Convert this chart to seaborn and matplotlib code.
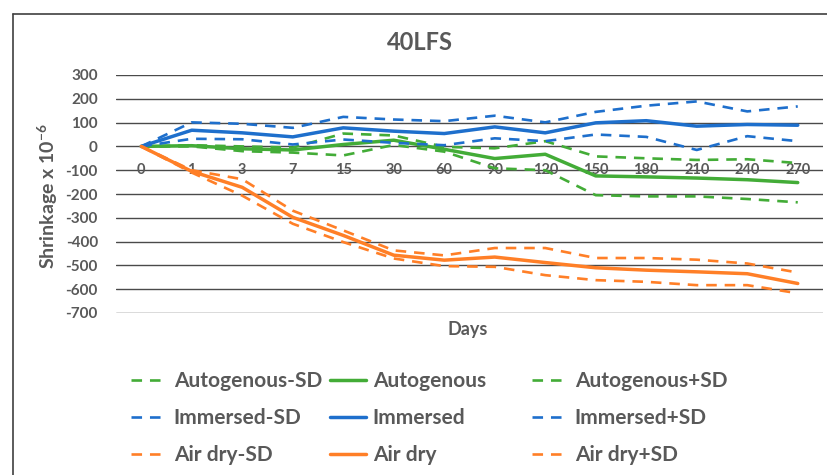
import matplotlib
matplotlib.use("Agg")
import matplotlib.pyplot as plt
from matplotlib.lines import Line2D
import pandas as pd
import seaborn as sns

# Curing age (days) used as categories along the x axis
days = ["0", "1", "3", "7", "15", "30", "60", "90", "120", "150", "180", "210", "240", "270"]

# Shrinkage (x 10^-6): mean and mean ± standard deviation for each curing regime
autogenous = [0, 3, -10, -15, 8, 26, -12, -51, -33, -124, -128, -133, -140, -152]
autogenous_plus = [0, 5, 0, -5, 54, 46, -2, -8, 22, -42, -50, -57, -54, -70]
autogenous_minus = [0, 0, -20, -26, -38, 6, -22, -92, -100, -205, -210, -210, -221, -235]

immersed = [0, 68, 57, 40, 78, 64, 54, 82, 57, 99, 108, 85, 92, 89]
immersed_plus = [0, 101, 95, 78, 124, 113, 106, 129, 101, 145, 171, 189, 147, 168]
immersed_minus = [0, 32, 30, 8, 29, 15, 5, 34, 22, 50, 40, -15, 43, 22]

air_dry = [0, -105, -172, -298, -374, -457, -478, -465, -488, -510, -520, -527, -535, -576]
air_dry_plus = [0, -100, -138, -270, -353, -437, -458, -427, -427, -469, -469, -476, -492, -530]
air_dry_minus = [0, -110, -207, -325, -402, -471, -503, -506, -541, -562, -569, -583, -583, -617]

GREEN = "#43AC37"
BLUE = "#1E6FCC"
ORANGE = "#FF7F27"
TEXT = "#595959"

# (label, values, colour, dashed?) in drawing order
series = [
    ("Autogenous-SD", autogenous_minus, GREEN, True),
    ("Autogenous", autogenous, GREEN, False),
    ("Autogenous+SD", autogenous_plus, GREEN, True),
    ("Immersed-SD", immersed_minus, BLUE, True),
    ("Immersed", immersed, BLUE, False),
    ("Immersed+SD", immersed_plus, BLUE, True),
    ("Air dry-SD", air_dry_minus, ORANGE, True),
    ("Air dry", air_dry, ORANGE, False),
    ("Air dry+SD", air_dry_plus, ORANGE, True),
]

sns.set_theme(style="white")
plt.rcParams["font.family"] = ["Lato", "DejaVu Sans"]
plt.rcParams["axes.unicode_minus"] = False
plt.rcParams["mathtext.fontset"] = "custom"
plt.rcParams["mathtext.rm"] = "Lato"
plt.rcParams["mathtext.bf"] = "Lato:bold"

W, H = 827, 475
fig = plt.figure(figsize=(W / 100, H / 100), dpi=100)
ax = fig.add_axes([116 / W, 1 - 313 / H, 707 / W, 238 / H])

DASH = (0, (4, 3))
handles = {}
for label, values, color, dashed in series:
    df = pd.DataFrame({"pos": range(len(days)), "value": values})
    n_before = len(ax.lines)
    sns.lineplot(data=df, x="pos", y="value", ax=ax, color=color,
                 linewidth=1.9 if dashed else 2.5, sort=False, legend=False)
    line = ax.lines[n_before]
    if dashed:
        line.set_linestyle(DASH)
    handles[label] = line

ax.set_xlim(-0.5, len(days) - 0.5)
ax.set_ylim(-700, 300)
ax.set_yticks(range(-700, 301, 100))
ax.set_xticks([])
ax.yaxis.grid(True, color="#4a4a4a", linewidth=1.0)
ax.xaxis.grid(False)
for s in ax.spines.values():
    s.set_visible(False)
ax.set_xlabel("")
ax.set_ylabel("")
ax.tick_params(axis="y", length=0, pad=13, labelsize=11, labelcolor=TEXT)
for lbl in ax.get_yticklabels():
    lbl.set_fontweight("bold")

# Category labels sit on the -100 gridline
for i, d in enumerate(days):
    ax.text(i, -100, d, ha="center", va="center", fontsize=10.5,
            fontweight="bold", color=TEXT, zorder=1.5)

fig.text(420 / W, 1 - 42 / H, "40LFS", ha="center", va="center",
         fontsize=17, fontweight="bold", color=TEXT)
fig.text(468 / W, 1 - 330 / H, "Days", ha="center", va="center",
         fontsize=13, fontweight="bold", color=TEXT)
fig.text(48 / W, 1 - 196 / H, r"Shrinkage x 10$^{\mathbf{-6}}$", rotation=90,
         ha="center", va="center", fontsize=14, fontweight="bold", color=TEXT)

# Chart frame (left and top edges)
fig.add_artist(Line2D([13 / W, 13 / W], [0, 1 - 14 / H], transform=fig.transFigure,
                      color="#3f3f3f", linewidth=1.2))
fig.add_artist(Line2D([13 / W, 1], [1 - 14 / H, 1 - 14 / H], transform=fig.transFigure,
                      color="#3f3f3f", linewidth=1.2))

# Legend: three fixed columns, one regime per row
columns = [
    (131, ["Autogenous-SD", "Immersed-SD", "Air dry-SD"]),
    (330, ["Autogenous", "Immersed", "Air dry"]),
    (532, ["Autogenous+SD", "Immersed+SD", "Air dry+SD"]),
]
for x0, labels in columns:
    fig.legend([handles[l] for l in labels], labels, loc="center left",
               bbox_to_anchor=(x0 / W, 1 - 418 / H), frameon=False,
               borderpad=0, borderaxespad=0, handlelength=1.75,
               handletextpad=0.3, labelspacing=0.82,
               prop={"size": 15, "weight": "bold"}, labelcolor=TEXT)

fig.savefig("out.png", dpi=100)
